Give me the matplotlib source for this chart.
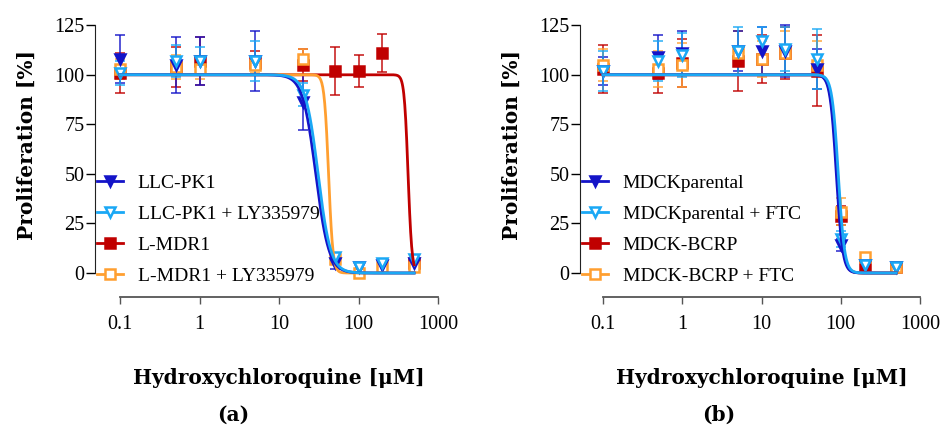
import numpy as np
import matplotlib
matplotlib.use("Agg")
import matplotlib.pyplot as plt

plt.rcParams["font.family"] = ["Liberation Serif", "DejaVu Serif"]

# ---- panel (a) data ----
conc_a = [0.1, 0.5, 1, 5, 20, 50, 100, 200, 500]
llc = [108, 105, 107, 107, 86, 5, 3, 4, 5]
llc_sd = [12, 14, 12, 15, 14, 3, 2, 2, 2]
llc_ly = [101, 107, 107, 107, 90, 8, 3, 5, 7]
llc_ly_sd = [6, 8, 7, 10, 6, 2, 2, 2, 2]
mdr = [101, 104, 107, 106, 105, 102, 102, 111, 5]
mdr_sd = [10, 10, 12, 6, 8, 12, 8, 9.5, 2]
mdr_ly = [103, 104, 103, 105, 108, 7, 0, 3, 3]
mdr_ly_sd = [5, 6, 5, 4, 5, 2, 1, 1, 1]
labels_a = ["LLC-PK1", "LLC-PK1 + LY335979", "L-MDR1", "L-MDR1 + LY335979"]
ic50_a = [29, 31, 420, 42]
hill_a = [5.3, 5.5, 18, 16]

# ---- panel (b) data ----
conc_b = [0.1, 0.5, 1, 5, 10, 20, 50, 100, 200, 500]
mdck = [102, 109, 111, 112, 112, 112, 103, 14, 4, 3]
mdck_sd = [7, 11, 11, 10, 12, 13, 10, 3, 1, 1]
mdck_ftc = [102, 107, 110, 112, 117, 113, 108, 17, 4, 3]
mdck_ftc_sd = [10, 10, 11, 12, 7, 11, 15, 4, 1, 1]
bcrp = [103, 101, 106, 107, 108, 111, 102, 29, 4, 3]
bcrp_sd = [12, 10, 12, 15, 12, 13, 18, 5, 1, 1]
bcrp_ftc = [105, 103, 105, 111, 108, 111, 105, 31, 8, 3]
bcrp_ftc_sd = [8, 9, 11, 11, 9, 11, 12, 7, 2, 1]
labels_b = ["MDCKparental", "MDCKparental + FTC", "MDCK-BCRP", "MDCK-BCRP + FTC"]
ic50_b = [88, 93, 90, 91]
hill_b = [11, 11, 11, 11]

x_ticks = [0.1, 1, 10, 100, 1000]
x_ticklabels = ["0.1", "1", "10", "100", "1000"]
y_ticks = [0, 25, 50, 75, 100, 125]

colors = ["#1414C8", "#1AA8F5", "#C00000", "#FF9F30"]
markers = ["v", "v", "s", "s"]
filled = [True, False, True, False]

label_font = dict(family="DejaVu Serif", fontsize=14.5, fontweight="bold")


def logistic(x, ic50, hill):
    return 100.0 / (1.0 + (x / ic50) ** hill)


def draw_panel(ax, conc, series, errs, labels, ic50s, hills, xlim):
    xs = np.logspace(-1, np.log10(500), 600)
    handles = []
    # draw red/orange first so blue curves sit on top
    for i in [2, 3, 0, 1]:
        c = colors[i]
        mfc = c if filled[i] else "white"
        ax.errorbar(conc, series[i], yerr=errs[i], fmt="none", ecolor=c,
                    elinewidth=1.2, capsize=3.5, capthick=1.2, alpha=0.85, zorder=2)
        ax.plot(conc, series[i], linestyle="none", marker=markers[i], markersize=7,
                markerfacecolor=mfc, markeredgecolor=c, markeredgewidth=1.8, zorder=3)
        ax.plot(xs, logistic(xs, ic50s[i], hills[i]), color=c, lw=2.0, zorder=4)
    for i in range(4):
        c = colors[i]
        mfc = c if filled[i] else "white"
        h, = ax.plot([], [], color=c, lw=2.0, marker=markers[i], markersize=7,
                     markerfacecolor=mfc, markeredgecolor=c, markeredgewidth=1.8)
        handles.append(h)

    ax.set_xscale("log")
    ax.set_xlim(*xlim)
    ax.set_ylim(-12.1, 127.6)
    ax.set_xticks(x_ticks)
    ax.set_xticklabels(x_ticklabels)
    ax.minorticks_off()
    ax.set_yticks(y_ticks)
    ax.spines["top"].set_visible(False)
    ax.spines["right"].set_visible(False)
    ax.spines["left"].set_bounds(0, 125)
    ax.spines["bottom"].set_bounds(0.1, 1000)
    ax.spines["left"].set_color("#222222")
    ax.spines["bottom"].set_color("#555555")
    ax.spines["bottom"].set_linewidth(1.3)
    ax.tick_params(axis="y", direction="out", length=6.5, width=1, pad=1, labelsize=14.5)
    ax.tick_params(axis="x", direction="out", length=5, width=1, pad=8, labelsize=14.5,
                   color="#555555")

    ax.legend(handles, labels, loc="lower left", bbox_to_anchor=(0.005, 0.045),
              frameon=False, fontsize=14, handlelength=1.35, handletextpad=0.75,
              labelspacing=0.68, borderpad=0, borderaxespad=0)

    ax.set_ylabel("Proliferation [%]", **label_font)
    ax.yaxis.set_label_coords(-0.17, 0.55)
    ax.set_xlabel("Hydroxychloroquine [\u03bcM]", **label_font)
    ax.xaxis.set_label_coords(0.533, -0.258)


fig = plt.figure(figsize=(9.43, 4.28), dpi=100)
ax_a = fig.add_axes([95 / 943, 1 - 297 / 428, 345 / 943, 277 / 428])
ax_b = fig.add_axes([580 / 943, 1 - 297 / 428, 342 / 943, 277 / 428])

draw_panel(ax_a, conc_a, [llc, llc_ly, mdr, mdr_ly],
           [llc_sd, llc_ly_sd, mdr_sd, mdr_ly_sd], labels_a, ic50_a, hill_a,
           (10 ** -1.3145, 10 ** 3.025))
draw_panel(ax_b, conc_b, [mdck, mdck_ftc, bcrp, bcrp_ftc],
           [mdck_sd, mdck_ftc_sd, bcrp_sd, bcrp_ftc_sd], labels_b, ic50_b, hill_b,
           (10 ** -1.290, 10 ** 3.025))

fig.text(233 / 943, 1 - 415 / 428, "(a)", ha="center", va="center", **label_font)
fig.text(719 / 943, 1 - 415 / 428, "(b)", ha="center", va="center", **label_font)

fig.savefig("out.png", dpi=100)
